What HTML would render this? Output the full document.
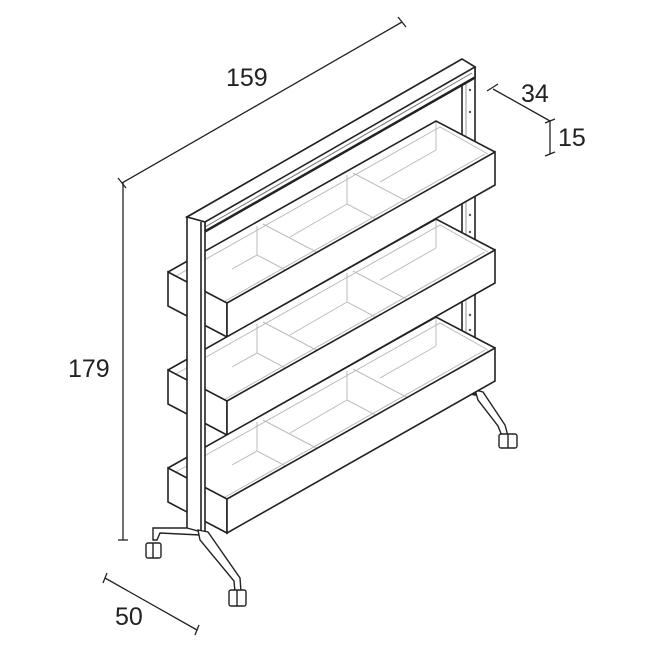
<!DOCTYPE html>
<html><head><meta charset="utf-8"><style>
html,body{margin:0;padding:0;background:#fff}
svg{display:block}
text{font-family:"Liberation Sans",sans-serif;font-size:25px;fill:#222}
</style></head><body>
<svg width="671" height="671" viewBox="0 0 671 671" xmlns="http://www.w3.org/2000/svg">
<defs>
<g id="tray">
  <polygon points="168,272 436,121 495,152 227,303" fill="#fff" stroke="none"/>
  <g stroke="#bbb" stroke-width="1" fill="none">
    <polyline points="176,276 440,127 488,154"/>
    <line x1="436" y1="121" x2="436" y2="150"/>
    <line x1="220" y1="304" x2="485" y2="154"/>
    <polyline points="257,226 257,255 316,286"/>
    <polyline points="347,175 347,204 406,235"/>
    <line x1="257" y1="255" x2="232" y2="269"/>
    <line x1="347" y1="204" x2="290" y2="237"/>
    <line x1="436" y1="150" x2="380" y2="182"/>
    <line x1="263" y1="224" x2="322" y2="255"/>
    <line x1="353" y1="173" x2="412" y2="204"/>
  </g>
  <polygon points="168,272 227,303 227,337 168,306" fill="#fff" stroke="#222" stroke-width="1.6"/>
  <polyline points="168,272 436,121 495,152" fill="none" stroke="#222" stroke-width="1.6"/>
  <polygon points="227,303 495,152 495,185 227,337" fill="#fff" stroke="#222" stroke-width="1.6"/>
</g>
</defs>

<g stroke="#222" stroke-width="1.3" fill="none">
  <line x1="122" y1="183" x2="402" y2="22"/>
  <line x1="118" y1="178" x2="126" y2="188"/>
  <line x1="398" y1="17" x2="406" y2="27"/>
  <line x1="123" y1="183" x2="123" y2="540"/>
  <line x1="118" y1="540" x2="128" y2="540"/>
  <line x1="105" y1="578" x2="197" y2="630"/>
  <line x1="103" y1="583" x2="107" y2="573"/>
  <line x1="195" y1="635" x2="199" y2="625"/>
  <line x1="493" y1="89" x2="550" y2="121"/>
  <line x1="487" y1="91" x2="498" y2="84"/>
  <line x1="550" y1="121" x2="550" y2="154"/>
  <line x1="545" y1="123" x2="555" y2="119"/>
  <line x1="545" y1="156" x2="555" y2="152"/>
</g>
<text x="226" y="86">159</text>
<text x="68" y="377">179</text>
<text x="115" y="625">50</text>
<text x="521" y="102">34</text>
<text x="558" y="146">15</text>

<g stroke="#222" stroke-width="1.6" fill="#fff">
  <polygon points="462,65 475,67 475,395 462,392"/>
</g>
<line x1="466" y1="80" x2="466" y2="390" stroke="#999" stroke-width="1"/>
<g fill="#555">
  <circle cx="470" cy="90" r="1.2"/><circle cx="470" cy="112" r="1.2"/>
  <circle cx="470" cy="215" r="1.2"/><circle cx="470" cy="232" r="1.2"/>
  <circle cx="470" cy="315" r="1.2"/><circle cx="470" cy="330" r="1.2"/>
</g>
<g stroke="#222" stroke-width="1.4" fill="#fff">
  <polygon points="475,390 483,392 505,425 508,436 502,436 498,426 478,400"/>
  <rect x="499" y="434" width="18" height="14" rx="2"/>
  <line x1="508" y1="434" x2="508" y2="448"/>
</g>

<g stroke="#222" stroke-width="1.6" fill="#fff">
  <polygon points="187,217 462,59 475,67 475,78 205,232 205,222"/>
  <polygon points="187,217 462,59 475,67 205,222"/>
  <line x1="205" y1="231" x2="475" y2="77"/>
</g>
<line x1="205" y1="227" x2="472" y2="73" stroke="#777" stroke-width="1"/>

<use href="#tray"/>
<use href="#tray" transform="translate(0,98)"/>
<use href="#tray" transform="translate(0,196)"/>

<g stroke="#222" stroke-width="1.6" fill="#fff">
  <polygon points="187,217 205,222 205,535 187,530"/>
  <line x1="201" y1="222" x2="201" y2="534"/>
</g>
<g stroke="#222" stroke-width="1.4" fill="#fff">
  <polygon points="187,528 205,533 200,535 160,533 157,540 153,540 153,528"/>
  <polygon points="198,530 208,532 240,578 241,592 235,592 234,581 200,540"/>
  <rect x="146" y="543" width="15" height="15" rx="2"/>
  <line x1="153" y1="543" x2="153" y2="558"/>
  <rect x="229" y="590" width="17" height="16" rx="2"/>
  <line x1="237" y1="590" x2="237" y2="606"/>
</g>
</svg>
</body></html>
